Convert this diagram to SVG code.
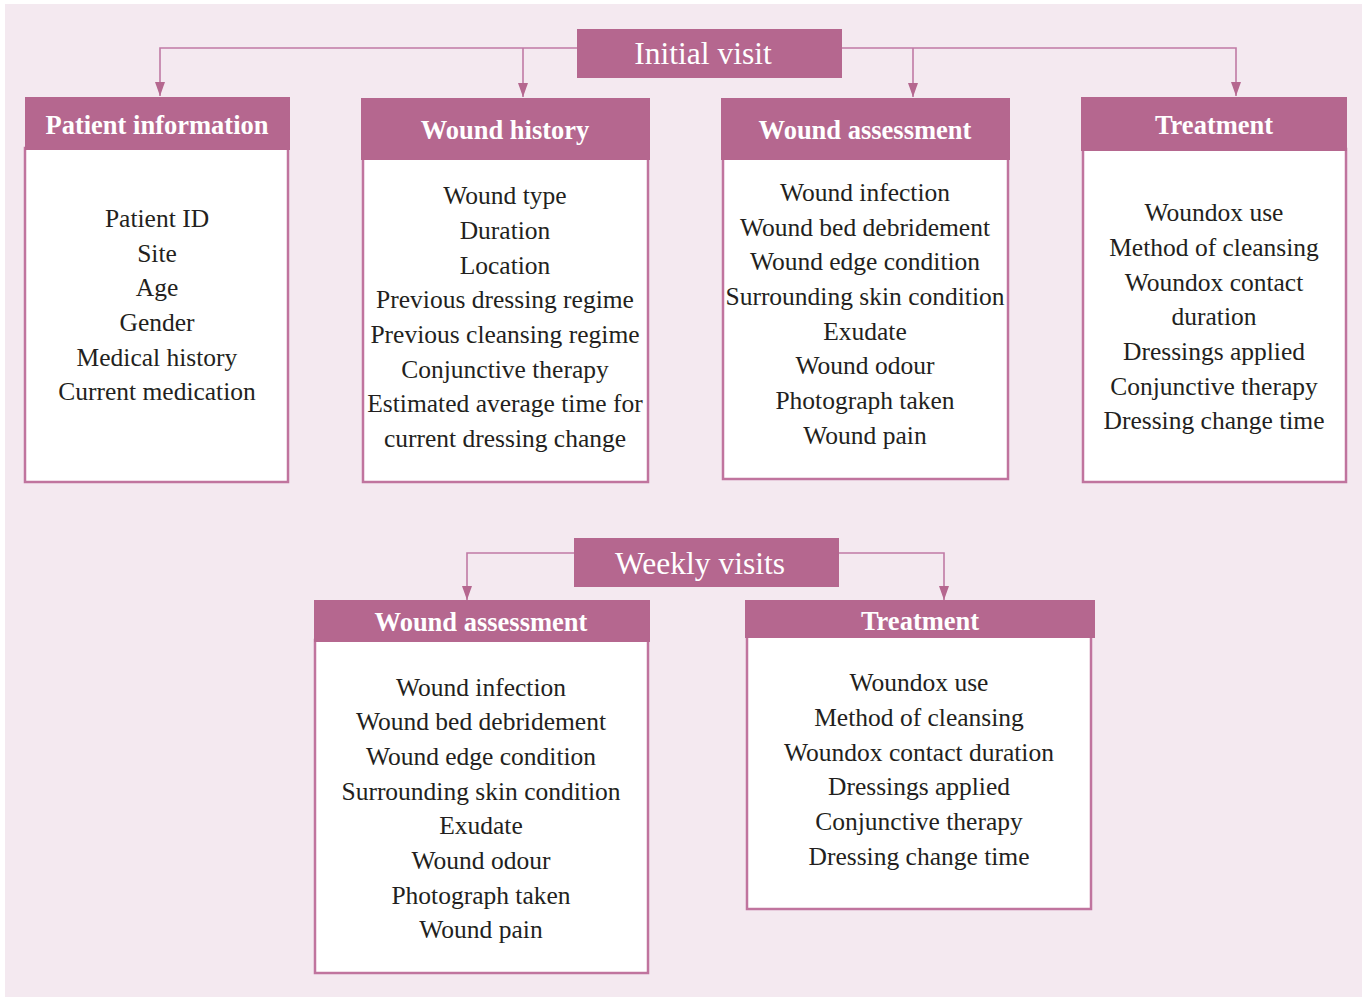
<svg xmlns="http://www.w3.org/2000/svg" width="1367" height="1000" viewBox="0 0 1367 1000">
<defs>
<marker id="arr" markerWidth="14" markerHeight="10" refX="14" refY="5" orient="auto" markerUnits="userSpaceOnUse" viewBox="0 0 14 10">
<path d="M0,0 L14,5 L0,10 Z" fill="#b5678f"/>
</marker>
<style>
.hdr{fill:#b5678f}
.body{fill:#ffffff;stroke:#c0749e;stroke-width:2.5}
text{font-family:'Liberation Serif','Times New Roman',serif}
.ht{font-weight:bold;font-size:26.5px;fill:#ffffff;text-anchor:middle}
.tt{font-size:31.5px;fill:#ffffff;text-anchor:middle}
.bt{font-size:25.5px;fill:#231f20;text-anchor:middle}
.con{fill:none;stroke:#c07aa5;stroke-width:1.6}
</style>
</defs>
<rect x="0" y="0" width="1367" height="1000" fill="#ffffff"/>
<rect x="5" y="4" width="1357" height="993" fill="#f4e9f0"/>

<g id="connectors">
<path class="con" d="M577,48 H160 V96" marker-end="url(#arr)"/>
<path class="con" d="M523,48 V97" marker-end="url(#arr)"/>
<path class="con" d="M842,48 H1236 V96" marker-end="url(#arr)"/>
<path class="con" d="M913,48 V97" marker-end="url(#arr)"/>
<path class="con" d="M574,553 H467 V600" marker-end="url(#arr)"/>
<path class="con" d="M839,553 H944 V600" marker-end="url(#arr)"/>
</g>

<g id="initial-visit">
<rect class="hdr" x="577" y="29" width="265" height="49"/>
<text class="tt" x="703" y="64">Initial visit</text>
</g>

<g id="patient-information">
<rect class="body" x="25" y="148" width="263" height="334"/>
<rect class="hdr" x="25" y="97" width="265" height="53"/>
<text class="ht" x="157" y="134">Patient information</text>
<text class="bt" x="157" y="227">Patient ID</text>
<text class="bt" x="157" y="262">Site</text>
<text class="bt" x="157" y="296">Age</text>
<text class="bt" x="157" y="331">Gender</text>
<text class="bt" x="157" y="366">Medical history</text>
<text class="bt" x="157" y="400">Current medication</text>
</g>

<g id="wound-history">
<rect class="body" x="363" y="158" width="285" height="324"/>
<rect class="hdr" x="361" y="98" width="289" height="62"/>
<text class="ht" x="505" y="139">Wound history</text>
<text class="bt" x="505" y="204">Wound type</text>
<text class="bt" x="505" y="239">Duration</text>
<text class="bt" x="505" y="274">Location</text>
<text class="bt" x="505" y="308">Previous dressing regime</text>
<text class="bt" x="505" y="343">Previous cleansing regime</text>
<text class="bt" x="505" y="378">Conjunctive therapy</text>
<text class="bt" x="505" y="412">Estimated average time for</text>
<text class="bt" x="505" y="447">current dressing change</text>
</g>

<g id="wound-assessment-initial">
<rect class="body" x="723" y="158" width="285" height="321"/>
<rect class="hdr" x="721" y="98" width="289" height="62"/>
<text class="ht" x="865" y="139">Wound assessment</text>
<text class="bt" x="865" y="201">Wound infection</text>
<text class="bt" x="865" y="236">Wound bed debridement</text>
<text class="bt" x="865" y="270">Wound edge condition</text>
<text class="bt" x="865" y="305">Surrounding skin condition</text>
<text class="bt" x="865" y="340">Exudate</text>
<text class="bt" x="865" y="374">Wound odour</text>
<text class="bt" x="865" y="409">Photograph taken</text>
<text class="bt" x="865" y="444">Wound pain</text>
</g>

<g id="treatment-initial">
<rect class="body" x="1083" y="149" width="263" height="333"/>
<rect class="hdr" x="1081" y="97" width="266" height="54"/>
<text class="ht" x="1214" y="134">Treatment</text>
<text class="bt" x="1214" y="221">Woundox use</text>
<text class="bt" x="1214" y="256">Method of cleansing</text>
<text class="bt" x="1214" y="291">Woundox contact</text>
<text class="bt" x="1214" y="325">duration</text>
<text class="bt" x="1214" y="360">Dressings applied</text>
<text class="bt" x="1214" y="395">Conjunctive therapy</text>
<text class="bt" x="1214" y="429">Dressing change time</text>
</g>

<g id="weekly-visits">
<rect class="hdr" x="574" y="538" width="265" height="49"/>
<text class="tt" x="700" y="574">Weekly visits</text>
</g>

<g id="wound-assessment-weekly">
<rect class="body" x="315" y="640" width="333" height="333"/>
<rect class="hdr" x="314" y="600" width="336" height="42"/>
<text class="ht" x="481" y="631">Wound assessment</text>
<text class="bt" x="481" y="696">Wound infection</text>
<text class="bt" x="481" y="730">Wound bed debridement</text>
<text class="bt" x="481" y="765">Wound edge condition</text>
<text class="bt" x="481" y="800">Surrounding skin condition</text>
<text class="bt" x="481" y="834">Exudate</text>
<text class="bt" x="481" y="869">Wound odour</text>
<text class="bt" x="481" y="904">Photograph taken</text>
<text class="bt" x="481" y="938">Wound pain</text>
</g>

<g id="treatment-weekly">
<rect class="body" x="747" y="636" width="344" height="273"/>
<rect class="hdr" x="745" y="600" width="350" height="38"/>
<text class="ht" x="920" y="630">Treatment</text>
<text class="bt" x="919" y="691">Woundox use</text>
<text class="bt" x="919" y="726">Method of cleansing</text>
<text class="bt" x="919" y="761">Woundox contact duration</text>
<text class="bt" x="919" y="795">Dressings applied</text>
<text class="bt" x="919" y="830">Conjunctive therapy</text>
<text class="bt" x="919" y="865">Dressing change time</text>
</g>
</svg>
